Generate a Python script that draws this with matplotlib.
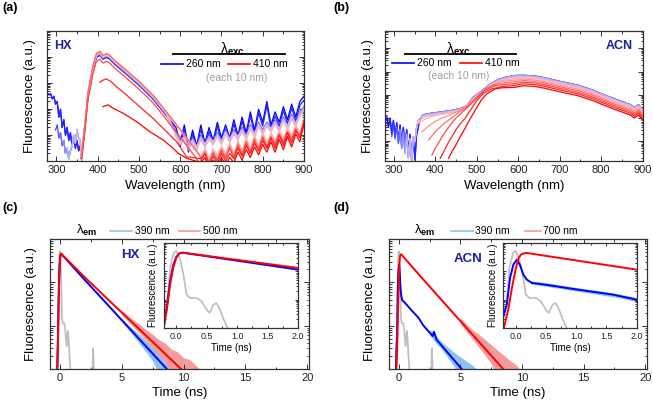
import numpy as np
import matplotlib.pyplot as plt
from matplotlib.colors import LinearSegmentedColormap
from matplotlib.ticker import MultipleLocator, LogLocator, NullFormatter

plt.rcParams['font.family'] = ['Liberation Sans', 'DejaVu Sans']
plt.rcParams['mathtext.fontset'] = 'custom'
plt.rcParams['mathtext.rm'] = 'Liberation Sans'
plt.rcParams['mathtext.it'] = 'Liberation Sans:italic'
plt.rcParams['mathtext.bf'] = 'Liberation Sans:bold'

# ---------------- data (log10 of intensity) ----------------
# (a) HX, emission spectra for excitation 260..410 nm
a_exc = [260, 270, 280, 290, 300, 310, 320, 330, 340, 350, 360, 370, 380, 390, 400, 410]
a_head_wl = [278, 282, 286, 290, 294, 298, 302, 306, 310, 314, 318, 322, 326, 330, 334, 338, 342, 346, 350, 354, 358]
a_head_dark = [2.65, 2.55, 2.6, 2.4, 2.5, 2.2, 2.3, 1.7, 2.0, 1.3, 1.6, 1.0, 1.3, 0.8, 1.1, 0.6, 0.9, 0.5, 0.8, 0.4, 0.6]
a_head_light = [1.9, 1.7, 1.8, 1.5, 1.6, 1.2, 1.4, 0.9, 1.1, 0.6, 0.8, 0.3, 0.5, 0.1, 0.4, 0.6, 1.0, 0.7, 1.2, 0.9, 0.8]
a_peak_wl = [360.6, 368.7, 376.8, 388.9, 397, 405, 413, 421, 427.7, 441.5, 469.8, 502, 534.4, 566.8, 599, 623.4, 647.6]
a_peak_log = [0.18, 1.33, 2.62, 3.64, 4.09, 4.18, 4.03, 4.09, 4.05, 3.83, 3.45, 3.0, 2.49, 1.85, 1.2, 0.69, 0.18]
a_peak_off = [-0.1, -0.08, -0.06, -0.05, -0.04, -0.03, -0.02, -0.01, 0.0, 0.01, 0.02, 0.04, 0.05, -0.25]
a400_wl = [405, 413, 421, 433.4, 445.5, 469.8, 502, 534.4, 566.8, 591, 615]
a400_log = [3.04, 3.12, 3.17, 3.06, 2.87, 2.55, 2.1, 1.65, 1.14, 0.76, 0.18]
a410_wl = [413, 419, 425.3, 437.4, 461.7, 494, 526.4, 558.7, 583, 595, 615]
a410_log = [2.1, 2.14, 2.17, 2.04, 1.85, 1.53, 1.14, 0.82, 0.5, 0.31, 0.12]
a_tail_wl_b = [590, 600, 610, 620, 630, 640, 650, 660, 670, 680, 690, 700, 710, 720, 730, 740,
               750, 760, 770, 780, 790, 800, 810, 820, 830, 840, 850, 860, 870, 880, 890, 900]
a_tail_dark = [1.3, 0.7, 1.4, 0.5, 1.2, 0.6, 1.4, 0.7, 1.3, 0.8, 1.5, 0.9, 1.4, 0.9, 1.6, 1.0,
               1.7, 1.1, 1.9, 1.2, 2.0, 1.5, 2.3, 1.4, 1.9, 1.5, 2.1, 1.6, 2.2, 1.7, 2.3, 2.5]
a_tail_light = [1.1, 0.8, 1.0, 0.6, 0.9, 0.6, 1.0, 0.7, 1.0, 0.8, 1.1, 0.8, 1.2, 0.9, 1.2, 1.0,
                1.3, 1.0, 1.4, 1.1, 1.5, 1.2, 1.5, 1.3, 1.6, 1.3, 1.7, 1.4, 1.8, 1.5, 1.9, 2.1]
a_tail_wl_r = [650, 660, 670, 680, 690, 700, 710, 720, 730, 740, 750, 760, 770,
               780, 790, 800, 810, 820, 830, 840, 850, 860, 870, 880, 890, 900]
a_tail_pink = [0.2, 0.5, 0.1, 0.5, 0.2, 0.6, 0.3, 0.7, 0.3, 0.8, 0.4, 0.9, 0.5,
               1.0, 0.6, 1.1, 0.7, 1.1, 0.8, 1.2, 0.9, 1.3, 1.0, 1.4, 1.1, 1.6]
a_tail_red = [0.1, 0.3, -0.2, 0.2, -0.1, 0.3, 0.0, 0.3, 0.1, 0.5, 0.2, 0.6, 0.3,
              0.7, 0.4, 0.8, 0.5, 0.9, 0.5, 1.0, 0.6, 1.1, 0.7, 1.2, 0.9, 1.6]
a_tail_off = [0, -0.15, 0, -0.05, -0.1, -0.15, -0.1, -0.05, -0.1, -0.15, 0, -0.1, -0.15, -0.2, 0, -0.15]

# (b) ACN
b_exc = a_exc
b_head_wl = [283, 287, 291, 295, 299, 303, 307, 311, 315, 319, 323, 327, 331, 335, 339, 343, 347, 351, 355, 359]
b_head_dark = [1.1, 0.6, 1.0, 0.3, 0.9, 0.2, 0.8, 0.0, 0.7, -0.1, 0.6, -0.3, 0.5, -0.5, 0.3, -0.7, 0.1, -0.8, 0.3, 0.6]
b_head_light = [0.9, 0.5, 0.8, 0.2, 0.7, 0.1, 0.6, -0.1, 0.5, -0.3, 0.4, -0.5, 0.3, -0.7, 0.1, -0.85, 0.2, 0.0, 0.6, 0.9]
b_plat_wl = [362, 370, 380, 400, 420, 440, 460, 476, 490, 512, 530, 552, 570]
b_plat_log = [0.9, 1.1, 1.15, 1.2, 1.25, 1.3, 1.38, 1.49, 1.85, 2.13, 2.4, 2.63, 2.73]
b_main_wl = [592, 612, 640, 664, 700, 744, 780, 800, 824, 850, 870, 880, 890, 900]
b_main_log = [2.8, 2.81, 2.78, 2.7, 2.55, 2.38, 2.17, 2.02, 1.85, 1.68, 1.55, 1.42, 1.55, 1.32]
b_blue_off = [0.0, 0.02, 0.03, 0.03, 0.02, 0.0, -0.02, -0.03, -0.05, -0.07]
b_red_off = [-0.08, -0.14, -0.2, -0.27, -0.34, -0.42]
b360_wl = [360, 375, 390, 410, 430, 450, 470, 490, 512, 535, 560, 592]
b360_log = [0.77, 0.95, 1.05, 1.15, 1.22, 1.3, 1.45, 1.78, 2.1, 2.45, 2.62, 2.7]
b370_wl = [368, 380, 395, 410, 430, 450, 470, 490, 512, 535, 560, 592]
b370_log = [0.41, 0.6, 0.8, 0.95, 1.1, 1.25, 1.45, 1.75, 2.1, 2.4, 2.58, 2.63]
b380_wl = [384, 395, 405, 420, 435, 450, 465, 480, 500, 520, 545, 570, 592]
b380_log = [0.06, 0.3, 0.5, 0.75, 0.95, 1.15, 1.35, 1.55, 1.9, 2.25, 2.45, 2.53, 2.56]
b390_wl = [392, 400, 410, 420, 430, 440, 450, 465, 480, 500, 520, 545, 570, 592]
b390_log = [-0.59, -0.3, 0.0, 0.3, 0.55, 0.8, 1.0, 1.25, 1.5, 1.85, 2.2, 2.4, 2.45, 2.48]
b400_wl = [412, 420, 430, 440, 450, 460, 472, 485, 500, 515, 535, 560, 592]
b400_log = [-0.73, -0.45, -0.1, 0.2, 0.5, 0.75, 0.99, 1.35, 1.75, 2.05, 2.25, 2.35, 2.4]
b410_wl = [432, 440, 450, 460, 470, 480, 490, 500, 512, 525, 544, 560, 592]
b410_log = [-0.73, -0.45, -0.15, 0.2, 0.5, 0.84, 1.15, 1.45, 1.8, 2.05, 2.25, 2.3, 2.32]

# (c) HX decays
c_irf_t = [-0.3, -0.2, -0.15, -0.1, -0.04, 0.0, 0.06, 0.12, 0.17, 0.23, 0.34, 0.42, 0.5, 0.55, 0.61, 0.66, 0.72, 0.77, 0.83, 0.86, 0.95]
c_irf_log = [-0.5, 0.5, 0.82, 2.12, 2.65, 2.72, 2.47, 1.88, 1.18, 1.06, 1.06, 0.94, 0.65, 0.53, 0.82, 0.88, 0.65, 0.35, 0.06, -0.06, -0.5]
irf_spike_t = [2.6, 2.68, 2.72, 2.8]
irf_spike_log = [-0.5, 0.48, 0.25, -0.5]
c_blue_t = [-0.25, -0.2, -0.15, -0.1, -0.05, 0.0, 0.05, 0.1, 2.0, 8.65, 9.3]
c_blue_log = [-0.5, 0.1, 0.8, 1.65, 2.2, 2.5, 2.63, 2.66, 2.06, 0.0, -0.2]
c_red_t = [-0.25, -0.2, -0.15, -0.1, -0.05, 0.0, 0.05, 0.1, 2.0, 9.8, 10.5]
c_red_log = [-0.5, 0.06, 0.7, 1.53, 2.12, 2.47, 2.63, 2.66, 2.12, 0.0, -0.19]
c_rawb_t = [5.0, 5.5, 6.0, 6.5, 7.0, 7.5, 8.0, 8.5, 8.8, 9.0]
c_rawb_hi = [1.17, 1.02, 0.9, 0.78, 0.64, 0.52, 0.4, 0.28, 0.15, 0.0]
c_rawb_lo = [1.09, 0.92, 0.74, 0.56, 0.38, 0.18, -0.1, -0.5, -0.5, -0.5]
c_rawr_t = [5.0, 6.0, 6.5, 7.0, 7.5, 8.0, 8.5, 9.0, 9.5, 10.0, 10.5, 11.0, 11.3]
c_rawr_hi = [1.35, 1.12, 1.02, 0.9, 0.8, 0.68, 0.6, 0.46, 0.4, 0.26, 0.22, 0.08, 0.0]
c_rawr_lo = [1.25, 0.95, 0.8, 0.65, 0.5, 0.33, 0.15, -0.1, -0.5, -0.5, -0.5, -0.5, -0.5]

# (d) ACN decays
d_red_t = [-0.25, -0.2, -0.12, -0.06, 0.0, 0.05, 0.1, 0.18, 2.0, 8.47, 9.2]
d_red_log = [-0.5, -0.06, 0.65, 1.41, 2.06, 2.47, 2.61, 2.65, 2.06, 0.0, -0.23]
d_blue_t = [-0.25, -0.2, -0.145, -0.09, -0.035, 0.02, 0.07, 0.13, 0.185, 0.27, 0.49, 1.04, 1.6, 2.0, 2.75, 2.85, 2.95, 3.05, 5.1, 5.6]
d_blue_log = [-0.2, 0.41, 0.82, 1.77, 2.24, 2.41, 2.24, 1.88, 1.71, 1.59, 1.53, 1.35, 1.18, 1.0, 0.76, 0.86, 0.78, 0.68, 0.0, -0.16]
d_rawb_t = [2.5, 3.0, 3.5, 4.0, 4.5, 5.0, 5.5, 6.0, 6.3]
d_rawb_hi = [0.92, 0.78, 0.62, 0.5, 0.38, 0.28, 0.18, 0.08, 0.0]
d_rawb_lo = [0.78, 0.6, 0.45, 0.25, 0.05, -0.5, -0.5, -0.5, -0.5]
d_rawr_t = [5.0, 6.0, 6.5, 7.0, 7.5, 8.0, 8.5, 9.0, 9.5, 9.8]
d_rawr_hi = [1.18, 0.9, 0.8, 0.68, 0.56, 0.44, 0.32, 0.2, 0.1, 0.0]
d_rawr_lo = [1.04, 0.68, 0.5, 0.32, 0.12, -0.2, -0.5, -0.5, -0.5, -0.5]
d_in_raw_t = [0.25, 0.5, 0.8, 1.1, 1.4, 1.7, 2.0]
d_in_raw_hi = [1.66, 1.6, 1.5, 1.4, 1.31, 1.21, 1.07]
d_in_raw_lo = [1.55, 1.47, 1.37, 1.27, 1.17, 1.07, 0.93]

# ---------------- styling ----------------
W, H = 653, 405
NAVY = '#1e1e9a'
LBLUE = '#8cc4ec'
LRED = '#f59b9b'
GREY = '#bdbdbd'
cmap = LinearSegmentedColormap.from_list('exc', ['#0000ff', '#b4b4ff', '#ffb4b4', '#ff0000'])


def L(v):
    return 10.0 ** np.asarray(v, dtype=float)


def px_axes(l, t, r, b):
    return fig.add_axes([l / W, 1 - b / H, (r - l) / W, (b - t) / H])


def style(ax, lsize=8):
    ax.set_yscale('log')
    ax.yaxis.set_major_locator(LogLocator(base=10, numticks=20))
    ax.yaxis.set_minor_locator(LogLocator(base=10, subs=np.arange(2, 10), numticks=20))
    ax.yaxis.set_major_formatter(NullFormatter())
    ax.yaxis.set_minor_formatter(NullFormatter())
    ax.tick_params(which='both', direction='in', top=True, right=True, labelsize=lsize,
                   width=0.7, colors='#333333', labelcolor='#222222', pad=3)
    ax.tick_params(which='major', length=3.5)
    ax.tick_params(which='minor', length=1.8)
    for s in ax.spines.values():
        s.set_linewidth(0.9)
        s.set_color('#333333')


fig = plt.figure(figsize=(W / 100, H / 100), dpi=100)

# ---------------- (a) ----------------
ax = px_axes(47.3, 31.3, 304, 161.3)
style(ax)
for i, exc in enumerate(a_exc):
    wl, lg = [], []
    if i < 10:
        head = a_head_dark if i < 2 else a_head_light
        for w, v in zip(a_head_wl, head):
            if w >= exc + 15:
                wl.append(w)
                lg.append(v)
    if i < 14:
        if i < 10:
            tw, tv = a_tail_wl_b, (a_tail_dark if i < 2 else a_tail_light)
        else:
            tw, tv = a_tail_wl_r, a_tail_pink
        for w, v in zip(a_peak_wl, a_peak_log):
            if w < tw[0]:
                wl.append(w)
                lg.append(v + a_peak_off[i])
    else:
        wl += a400_wl if i == 14 else a410_wl
        lg += a400_log if i == 14 else a410_log
        tw, tv = a_tail_wl_r, a_tail_red
    wl += tw
    lg += [v + a_tail_off[i] for v in tv]
    ax.plot(wl, L(lg), color=cmap(i / 15), lw=0.9)
ax.set_xlim(278, 900)
ax.set_ylim(1, 1e5)
ax.xaxis.set_major_locator(MultipleLocator(100))
ax.xaxis.set_minor_locator(MultipleLocator(50))
ax.set_xlabel('Wavelength (nm)', fontsize=9.5, labelpad=3)
ax.set_ylabel('Fluorescence (a.u.)', fontsize=9.5, labelpad=5)
T = ax.transAxes
ax.text(0.025, 0.89, 'HX', transform=T, fontsize=9, fontweight='bold', color=NAVY, va='center')
ax.text(0.72, 0.865, r'$\mathrm{\lambda}_{\mathbf{exc}}$', transform=T, fontsize=10, ha='center', va='center')
ax.plot([0.49, 0.926], [0.823, 0.823], color='black', lw=1.3, transform=T)
ax.plot([0.441, 0.529], [0.746, 0.746], color='#0000ff', lw=1.2, transform=T)
ax.text(0.541, 0.746, '260 nm', transform=T, fontsize=7.5, va='center')
ax.plot([0.704, 0.79], [0.746, 0.746], color='#ff0000', lw=1.2, transform=T)
ax.text(0.80, 0.746, '410 nm', transform=T, fontsize=7.5, va='center')
ax.text(0.739, 0.638, '(each 10 nm)', transform=T, fontsize=7.5, ha='center', va='center', color='#a0a0a0')

# ---------------- (b) ----------------
ax = px_axes(384.7, 31.3, 642.7, 161.3)
style(ax)
b_rise = [(b360_wl, b360_log), (b370_wl, b370_log), (b380_wl, b380_log),
          (b390_wl, b390_log), (b400_wl, b400_log), (b410_wl, b410_log)]
for i, exc in enumerate(b_exc):
    wl, lg = [], []
    if i < 10:
        head = b_head_dark if i < 2 else b_head_light
        for w, v in zip(b_head_wl, head):
            if w >= exc + 15:
                wl.append(w)
                lg.append(v)
        wl += b_plat_wl + b_main_wl
        lg += [v + b_blue_off[i] for v in b_plat_log + b_main_log]
    else:
        rw, rl = b_rise[i - 10]
        wl += rw
        lg += rl
        for w, v in zip(b_main_wl, b_main_log):
            if w > rw[-1]:
                wl.append(w)
                lg.append(v + b_red_off[i - 10])
    ax.plot(wl, L(lg), color=cmap(i / 15), lw=0.9)
ax.set_xlim(278, 900)
ax.set_ylim(10 ** -0.86, 10 ** 4.73)
ax.xaxis.set_major_locator(MultipleLocator(100))
ax.xaxis.set_minor_locator(MultipleLocator(50))
ax.set_xlabel('Wavelength (nm)', fontsize=9.5, labelpad=3)
ax.set_ylabel('Fluorescence (a.u.)', fontsize=9.5, labelpad=5)
T = ax.transAxes
ax.text(0.963, 0.89, 'ACN', transform=T, fontsize=9, fontweight='bold', color=NAVY, va='center', ha='right')
ax.text(0.286, 0.865, r'$\mathrm{\lambda}_{\mathbf{exc}}$', transform=T, fontsize=10, ha='center', va='center')
ax.plot([0.077, 0.508], [0.823, 0.823], color='black', lw=1.3, transform=T)
ax.plot([0.027, 0.112], [0.756, 0.756], color='#0000ff', lw=1.2, transform=T)
ax.text(0.126, 0.756, '260 nm', transform=T, fontsize=7.5, va='center')
ax.plot([0.29, 0.377], [0.756, 0.756], color='#ff0000', lw=1.2, transform=T)
ax.text(0.39, 0.756, '410 nm', transform=T, fontsize=7.5, va='center')
ax.text(0.286, 0.654, '(each 10 nm)', transform=T, fontsize=7.5, ha='center', va='center', color='#a0a0a0')


# ---------------- (c), (d) ----------------
def decay_main(ax, bands, fits, label, lab_xy):
    style(ax)
    ax.plot(c_irf_t, L(c_irf_log), color=GREY, lw=1.2)
    ax.plot(irf_spike_t, L(irf_spike_log), color=GREY, lw=1.2)
    for (t, hi, lo), col in bands:
        ax.fill_between(t, L(lo), L(hi), color=col, lw=0)
    for (t, v), col in fits:
        ax.plot(t, L(v), color=col, lw=1.4)
    ax.set_xlim(-0.8, 20.15)
    ax.set_ylim(1, 1000)
    ax.xaxis.set_major_locator(MultipleLocator(5))
    ax.xaxis.set_minor_locator(MultipleLocator(2.5))
    ax.set_xlabel('Time (ns)', fontsize=9.5, labelpad=3)
    ax.set_ylabel('Fluorescence (a.u.)', fontsize=9.5, labelpad=6)
    ax.text(lab_xy[0], lab_xy[1], label, transform=ax.transAxes, fontsize=9.5, fontweight='bold',
            color=NAVY, ha='center', va='center')


def decay_inset(ax, fits, band=None):
    style(ax, lsize=6.5)
    ax.tick_params(which='major', length=2.5)
    ax.tick_params(which='minor', length=1.3)
    ax.plot(c_irf_t, L(c_irf_log), color=GREY, lw=1.2)
    if band is not None:
        ax.fill_between(band[0], L(band[2]), L(band[1]), color=LBLUE, lw=0)
    for (t, v), col in fits:
        ax.plot(t, L(v), color=col, lw=1.4)
    ax.set_xlim(-0.2, 2.0)
    ax.set_ylim(1, 1000)
    ax.xaxis.set_major_locator(MultipleLocator(0.5))
    ax.xaxis.set_minor_locator(MultipleLocator(0.25))
    ax.xaxis.set_major_formatter(plt.FormatStrFormatter('%.1f'))
    ax.set_xlabel('Time (ns)', fontsize=7, labelpad=1)
    ax.set_ylabel('Fluorescence (a.u.)', fontsize=7, labelpad=1)


def em_legend(ax, xs, red_name):
    T = ax.transAxes
    y = 1.062
    ax.text(xs[0], y, r'$\mathrm{\lambda}_{\mathbf{em}}$', transform=T, fontsize=9.5, ha='center', va='center')
    ax.plot(xs[1], [y, y], color=LBLUE, lw=1.2, transform=T, clip_on=False)
    ax.text(xs[2], y, '390 nm', transform=T, fontsize=7.5, va='center')
    ax.plot(xs[3], [y, y], color=LRED, lw=1.2, transform=T, clip_on=False)
    ax.text(xs[4], y, red_name, transform=T, fontsize=7.5, va='center')


ax = px_axes(50, 239, 309, 369)
decay_main(ax,
           [((c_rawb_t, c_rawb_hi, c_rawb_lo), LBLUE), ((c_rawr_t, c_rawr_hi, c_rawr_lo), LRED)],
           [((c_blue_t, c_blue_log), '#0000ff'), ((c_red_t, c_red_log), '#ff0000')],
           'HX', (0.31, 0.877))
em_legend(ax, [0.143, [0.23, 0.315], 0.328, [0.498, 0.579], 0.59], '500 nm')
ins = px_axes(164, 243, 298, 328)
decay_inset(ins, [((c_blue_t, c_blue_log), '#0000ff'), ((c_red_t, c_red_log), '#ff0000')])

ax = px_axes(389, 239, 647, 369)
decay_main(ax,
           [((d_rawb_t, d_rawb_hi, d_rawb_lo), LBLUE), ((d_rawr_t, d_rawr_hi, d_rawr_lo), LRED)],
           [((d_blue_t, d_blue_log), '#0000ff'), ((d_red_t, d_red_log), '#ff0000')],
           'ACN', (0.306, 0.846))
em_legend(ax, [0.14, [0.239, 0.324], 0.333, [0.527, 0.588], 0.597], '700 nm')
ins = px_axes(503.4, 243, 636.7, 328)
decay_inset(ins, [((d_blue_t, d_blue_log), '#0000ff'), ((d_red_t, d_red_log), '#ff0000')],
            band=(d_in_raw_t, d_in_raw_hi, d_in_raw_lo))

# panel letters
for x, y, s in [(2, 8, '(a)'), (333, 8, '(b)'), (2, 208, '(c)'), (333, 208, '(d)')]:
    fig.text(x / W, 1 - y / H, s, fontsize=9, fontweight='bold', va='center')

fig.savefig('out.png', dpi=100)
